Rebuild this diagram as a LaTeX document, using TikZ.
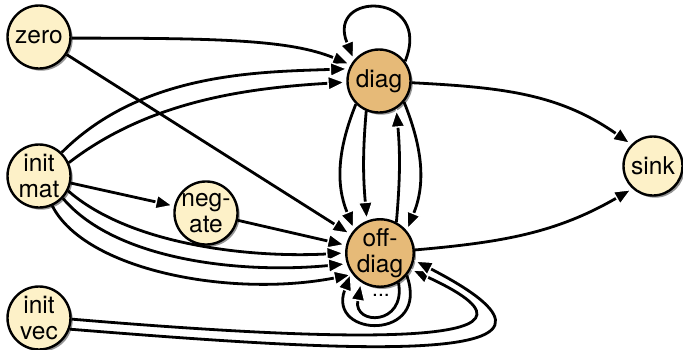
\documentclass[tikz,border=0pt]{standalone}
\usepackage{fontspec}
\setmainfont{TeX Gyre Heros}
\usetikzlibrary{arrows.meta,shadows}
\definecolor{paleop}{HTML}{FDF1C8}
\definecolor{hotop}{HTML}{E6BA78}
\tikzset{
  op/.style={circle, draw=black, line width=2.4pt, inner sep=0pt,
    minimum size=63pt, align=center, font=\fontsize{24.5}{26}\selectfont,
    fill=paleop,
    drop shadow={shadow xshift=2.2pt, shadow yshift=-2.2pt, fill=black!70, opacity=0.6}},
  smallop/.style={op, minimum size=59pt},
  hot/.style={fill=hotop},
  edge/.style={line width=2.8pt, draw=black,
    -{Triangle[length=19pt, width=16pt, color=white, fill=black, line width=1.4pt]}},
}
\begin{document}
\begin{tikzpicture}[x=1pt, y=1pt]
\useasboundingbox (0,0) rectangle (683,-349);

% operators
\node[op]        (zero)    at (39,-37)   {zero};
\node[op]        (initmat) at (39,-176)  {init\\mat};
\node[smallop]   (negate)  at (206,-213) {neg-\\ate};
\node[op]        (initvec) at (39,-318)  {init\\vec};
\node[op, hot]   (diag)    at (379,-81)  {diag};
\node[op, hot]   (offdiag) at (380,-253) {off-\\diag};
\node[smallop]   (sink)    at (653,-166) {sink};

% inputs into diag
\draw[edge] (zero.-2) .. controls (220,-38) and (290,-40) .. (diag.150);
\draw[edge] (initmat.46) .. controls (142,-72) and (260,-72) .. (diag.158);
\draw[edge] (initmat.24) .. controls (150,-100) and (250,-88) .. (diag.182);

% inputs into off-diag
\draw[edge] (zero) -- (offdiag);
\draw[edge] (initmat) -- (negate);
\draw[edge] (negate) -- (offdiag);
\draw[edge] (initmat.-27) .. controls (130,-245) and (250,-258) .. (offdiag.180);
\draw[edge] (initmat.-43) .. controls (115,-260) and (240,-274) .. (offdiag.198);
\draw[edge] (initmat.-66) .. controls (85,-270) and (230,-298) .. (offdiag.218);
\draw[edge] (initvec.-2) .. controls (320,-340) and (590,-352) .. (offdiag.-28);
\draw[edge] (initvec.-20) .. controls (330,-350) and (630,-372) .. (offdiag.-12);

% exchange between diag and off-diag
\draw[edge] (diag.225) to[out=-112, in=112] (offdiag.138);
\draw[edge] (diag.247) to[out=-95, in=95] (offdiag.112);
\draw[edge] (offdiag.62) to[out=85, in=-85] (diag.302);
\draw[edge] (diag.320) to[out=-68, in=68] (offdiag.40);

% self loops
\draw[edge] (diag.37) to[out=68, in=112, distance=75] (diag.140);
\draw[edge] (offdiag.-40) to[out=-70, in=-110, distance=70] (offdiag.-146);
\draw[edge] (offdiag.-58) to[out=-80, in=-100, distance=44] (offdiag.-123);
\node[font=\fontsize{21}{22}\selectfont, anchor=base] (more) at (381,-296) {...};

% outputs
\draw[edge] (diag.-3) to[out=-3, in=145] (sink.135);
\draw[edge] (offdiag.5) to[out=5, in=210] (sink.228);
\end{tikzpicture}
\end{document}
